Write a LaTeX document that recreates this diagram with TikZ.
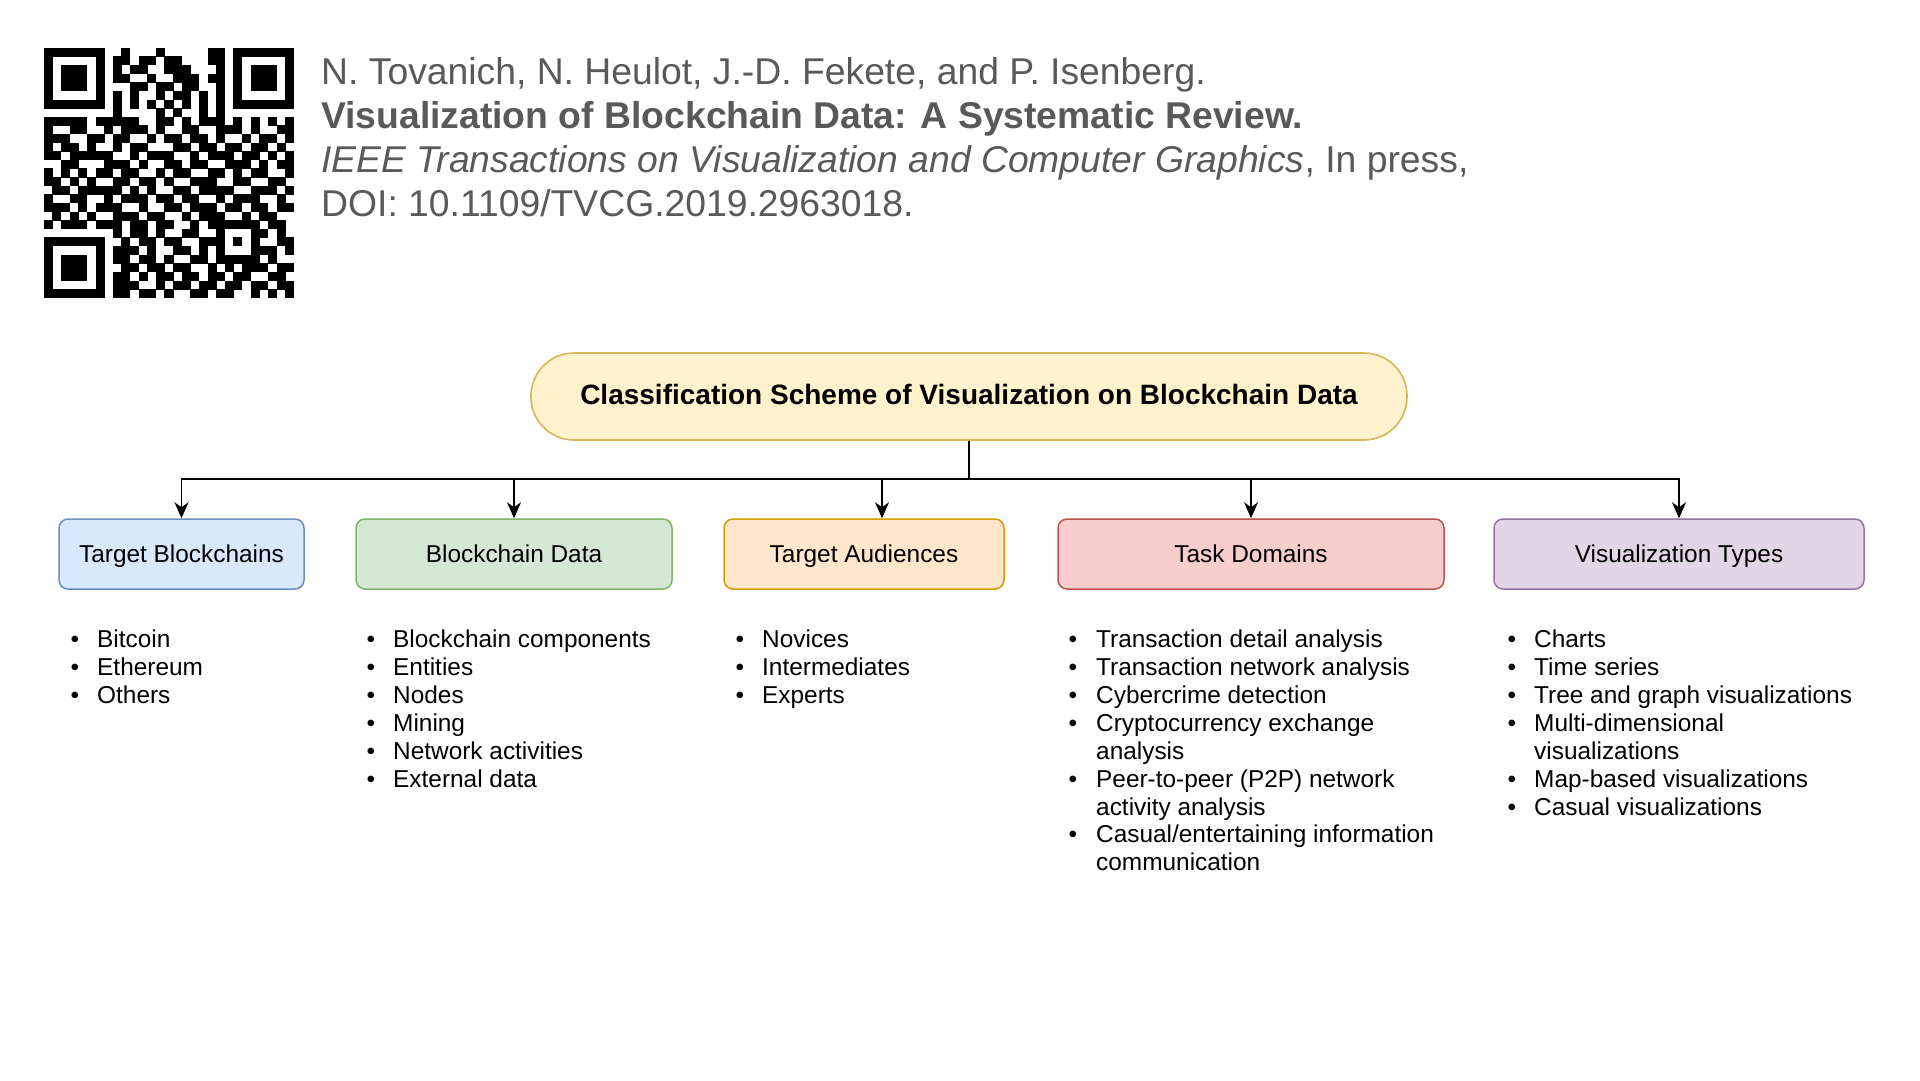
\documentclass[tikz,border=0pt]{standalone}
\usepackage{fontspec}
\setmainfont{Liberation Sans}
\usetikzlibrary{arrows.meta}
\definecolor{hdr}{HTML}{595959}
\definecolor{rootfill}{HTML}{FFF2CC}\definecolor{rootline}{HTML}{D6B656}
\definecolor{bfill}{HTML}{DAE8FC}\definecolor{bline}{HTML}{6C8EBF}
\definecolor{gfill}{HTML}{D5E8D4}\definecolor{gline}{HTML}{82B366}
\definecolor{ofill}{HTML}{FFE6CC}\definecolor{oline}{HTML}{D79B00}
\definecolor{rfill}{HTML}{F8CECC}\definecolor{rline}{HTML}{B85450}
\definecolor{pfill}{HTML}{E1D5E7}\definecolor{pline}{HTML}{9673A6}
\newcount\qrc
\def\qrscan#1{\ifx#1\relax\else\ifnum#1=1 \fill[black] (44+8.62*\the\qrc-0.2,48+8.62*\qrr-0.2) rectangle ++(9.02,9.02);\fi\global\advance\qrc by 1 \expandafter\qrscan\fi}
\tikzset{
  hdrtext/.style={anchor=base west, inner sep=0, text=hdr, font=\fontsize{37.3}{44}\selectfont},
  catbox/.style={draw, rounded corners=9, minimum height=70, line width=1.5, font=\fontsize{24.4}{28}\selectfont, inner sep=0, text height=20, text depth=2.6},
  conn/.style={line width=1.9, -{Stealth[length=16pt, width=14pt, inset=5pt]}},
  itemtext/.style={anchor=base west, inner sep=0, font=\fontsize{24.4}{28}\selectfont},
  bulletmark/.style={anchor=base, inner sep=0, font=\fontsize{24.4}{28}\selectfont},
}
\begin{document}
\begin{tikzpicture}[x=1pt,y=-1pt]
\useasboundingbox[fill=white] (0,0) rectangle (1920,1080);
% QR code
\foreach \qrrow [count=\qrr from 0] in {
11111110010001000001101111111,
10000010110110110001101000001,
10111010101100111000101011101,
10111010110010011101101011101,
10111010001101101100101011101,
10000010101001011010101000001,
11111110101010101010101111111,
00000000100001010010100000000,
11111011111001101011101010101,
10011001011101001100111010011,
11100110110010110110100101101,
10110100101100011011011011010,
11011111001011100101110110101,
00110001110100110110011101011,
10101011011001011001101011001,
11010100110110100111001100110,
01101111101010011011110011101,
10011001011101101100101110010,
11101011100100110111011011011,
01010100111011001011100101100,
10111011101101100101111110110,
00000000101101001100100011010,
11111110010110110011101010011,
10000010111010011010100011101,
10111010110110100110111110100,
10111010011011011001010111011,
10111010110101101101101100110,
10000010111001011011011011011,
11111110110110100110110010101}
{\global\qrc=0 \expandafter\qrscan\qrrow\relax}
% header
\node[hdrtext] (auth) at (321,84.5) {N. Tovanich, N. Heulot, J.-D. Fekete, and P. Isenberg.};
\node[hdrtext] (paper) at (321,128.5) {\textbf{Visualization of Blockchain Data: A Systematic Review.}};
\node[hdrtext] (journal) at (321,172.5) {\textit{IEEE Transactions on Visualization and Computer Graphics}, In press,};
\node[hdrtext] (doi) at (321,216.5) {DOI: 10.1109/TVCG.2019.2963018.};
% root
\node[draw=rootline, fill=rootfill, line width=1.6, rounded corners=43, minimum width=876, minimum height=87, inner sep=0, text height=17.5, text depth=2.5, font=\fontsize{28}{32}\selectfont\bfseries] (root) at (969,396.5) {Classification Scheme of Visualization on Blockchain Data};
% categories
\node[catbox, draw=bline, fill=bfill, minimum width=245] (c1) at (181.5,554) {Target Blockchains};
\node[catbox, draw=gline, fill=gfill, minimum width=316] (c2) at (514,554) {Blockchain Data};
\node[catbox, draw=oline, fill=ofill, minimum width=280] (c3) at (864,554) {Target Audiences};
\node[catbox, draw=rline, fill=rfill, minimum width=386] (c4) at (1251,554) {Task Domains};
\node[catbox, draw=pline, fill=pfill, minimum width=370] (c5) at (1679,554) {Visualization Types};
% connectors
\coordinate (hub) at (969,479);
\draw[conn] (root.south) -- (hub) -| (c1.north);
\draw[conn] (root.south) -- (hub) -| (c2.north);
\draw[conn] (root.south) -- (hub) -| ([xshift=18]c3.north);
\draw[conn] (root.south) -- (hub) -| (c4.north);
\draw[conn] (root.south) -- (hub) -| (c5.north);
% lists
\foreach \t [count=\i from 0] in {Bitcoin, Ethereum, Others}
  \node[itemtext] (la\i) at (97,647.6+27.9*\i) {\t};
\foreach \i in {0,1,2}
  \node[bulletmark] (ba\i) at (75,647.6+27.9*\i) {\textbullet};
\foreach \t [count=\i from 0] in {Blockchain components, Entities, Nodes, Mining, Network activities, External data}
  \node[itemtext] (lb\i) at (393,647.6+27.9*\i) {\t};
\foreach \i in {0,...,5}
  \node[bulletmark] (bb\i) at (371,647.6+27.9*\i) {\textbullet};
\foreach \t [count=\i from 0] in {Novices, Intermediates, Experts}
  \node[itemtext] (lc\i) at (762,647.6+27.9*\i) {\t};
\foreach \i in {0,1,2}
  \node[bulletmark] (bc\i) at (740,647.6+27.9*\i) {\textbullet};
\foreach \t [count=\i from 0] in {Transaction detail analysis, Transaction network analysis, Cybercrime detection, Cryptocurrency exchange, analysis, Peer-to-peer (P2P) network, activity analysis, Casual/entertaining information, communication}
  \node[itemtext] (ld\i) at (1096,647.6+27.9*\i) {\t};
\foreach \i in {0,1,2,3,5,7}
  \node[bulletmark] (bd\i) at (1073,647.6+27.9*\i) {\textbullet};
\foreach \t [count=\i from 0] in {Charts, Time series, Tree and graph visualizations, Multi-dimensional, visualizations, Map-based visualizations, Casual visualizations}
  \node[itemtext] (le\i) at (1534,647.6+27.9*\i) {\t};
\foreach \i in {0,1,2,3,5,6}
  \node[bulletmark] (be\i) at (1512,647.6+27.9*\i) {\textbullet};
\end{tikzpicture}
\end{document}
